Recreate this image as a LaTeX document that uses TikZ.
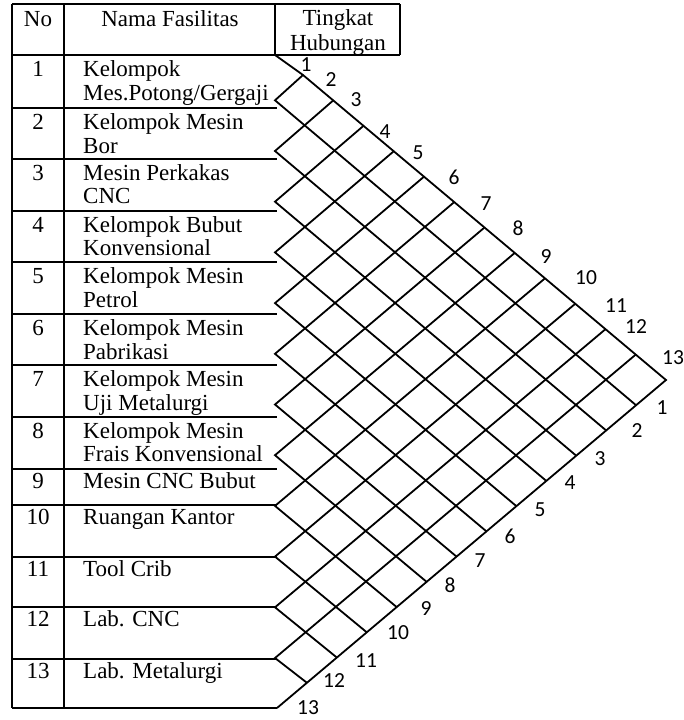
\documentclass[tikz,border=0pt]{standalone}
\usepackage{fontspec}
\setmainfont{Liberation Serif}
\newfontfamily\lblfont{Carlito}
\usetikzlibrary{calc}
\begin{document}
\begin{tikzpicture}[x=1pt,y=-1pt,
  tline/.style={line width=2pt},
  gline/.style={line width=1.8pt, line join=miter},
  cell/.style={inner sep=0pt, font=\fontsize{23}{23.5}\selectfont},
  lbl/.style={inner sep=0pt, font=\lblfont\fontsize{21.5}{22}\selectfont}]
\useasboundingbox (0,0) rectangle (684,720);

% ---------- table frame ----------
\draw[tline] (12,4) -- (400,4);
\draw[tline] (12,55) -- (400,55);
\draw[tline] (12,4) -- (12,708);
\draw[tline] (64,4) -- (64,708);
\draw[tline] (275,4) -- (275,55);
\draw[tline] (400,4) -- (400,55);
\foreach \yy in {108,158.5,210.5,262,314,365,416.5,468.5,505,556.5,607,659,708}
  \draw[tline] (12,\yy) -- (277,\yy);

% ---------- header ----------
\node[cell,anchor=base] (hNo) at (38,26) {No};
\node[cell,anchor=base] (hNama) at (170,26) {Nama Fasilitas};
\node[cell,anchor=base,align=center,font=\fontsize{23}{25}\selectfont] (hTk) at (338,50) {Tingkat\\Hubungan};

% ---------- rows ----------
\node[cell,anchor=base] (n1) at (38,76.5) {1};
\node[cell,anchor=base west,align=left] (f1) at (83,100) {Kelompok\\Mes.Potong/Gergaji};
\node[cell,anchor=base] (n2) at (38,129.5) {2};
\node[cell,anchor=base west,align=left] (f2) at (83,153) {Kelompok Mesin\\Bor};
\node[cell,anchor=base] (n3) at (38,180) {3};
\node[cell,anchor=base west,align=left] (f3) at (83,203.5) {Mesin Perkakas\\CNC};
\node[cell,anchor=base] (n4) at (38,232) {4};
\node[cell,anchor=base west,align=left] (f4) at (83,255.5) {Kelompok Bubut\\Konvensional};
\node[cell,anchor=base] (n5) at (38,283.5) {5};
\node[cell,anchor=base west,align=left] (f5) at (83,307) {Kelompok Mesin\\Petrol};
\node[cell,anchor=base] (n6) at (38,335.5) {6};
\node[cell,anchor=base west,align=left] (f6) at (83,359) {Kelompok Mesin\\Pabrikasi};
\node[cell,anchor=base] (n7) at (38,386.5) {7};
\node[cell,anchor=base west,align=left] (f7) at (83,410) {Kelompok Mesin\\Uji Metalurgi};
\node[cell,anchor=base] (n8) at (38,438) {8};
\node[cell,anchor=base west,align=left] (f8) at (83,461.5) {Kelompok Mesin\\Frais Konvensional};
\node[cell,anchor=base] (n9) at (38,488) {9};
\node[cell,anchor=base west] (f9) at (83,488) {Mesin CNC Bubut};
\node[cell,anchor=base] (n10) at (38,524.5) {10};
\node[cell,anchor=base west] (f10) at (83,524.5) {Ruangan Kantor};
\node[cell,anchor=base] (n11) at (38,576) {11};
\node[cell,anchor=base west] (f11) at (83,576) {Tool Crib};
\node[cell,anchor=base] (n12) at (38,626.5) {12};
\node[cell,anchor=base west] (f12) at (83,626.5) {Lab. CNC};
\node[cell,anchor=base] (n13) at (38,678.5) {13};
\node[cell,anchor=base west] (f13) at (83,678.5) {Lab. Metalurgi};

% ---------- relationship grid ----------
\coordinate (R) at (666,380);
\coordinate (T1) at (303,75);
\coordinate (L0) at (275,55);
\coordinate (L13) at (277,708);
\foreach \k in {1,...,12} {
  \coordinate (L\k) at (275,{49.6+50.7*\k});
  \coordinate (T\k) at ($(T1)!{(\k-1)/12}!(R)$);
  \coordinate (B\k) at ($(R)!{\k/13}!(L13)$);
}
\foreach \k in {1,...,12}
  \draw[gline] (T\k) -- (L\k) -- (B\k);
\draw[gline] (L0) -- (T1) -- (R) -- (L13);

% ---------- grid labels ----------
\node[lbl] (a1) at (306,65) {1};
\node[lbl] (a2) at (331,80) {2};
\node[lbl] (a3) at (356,100) {3};
\node[lbl] (a4) at (385,131.5) {4};
\node[lbl] (a5) at (418,153) {5};
\node[lbl] (a6) at (454,177) {6};
\node[lbl] (a7) at (486,204) {7};
\node[lbl] (a8) at (518,228) {8};
\node[lbl] (a9) at (546,257) {9};
\node[lbl] (a10) at (586,278) {10};
\node[lbl] (a11) at (616,306) {11};
\node[lbl] (a12) at (636,327) {12};
\node[lbl] (a13) at (673,358) {13};

\node[lbl] (b1) at (662,408) {1};
\node[lbl] (b2) at (637,431) {2};
\node[lbl] (b3) at (600,459) {3};
\node[lbl] (b4) at (570,483) {4};
\node[lbl] (b5) at (540,510) {5};
\node[lbl] (b6) at (510,536) {6};
\node[lbl] (b7) at (480,560.5) {7};
\node[lbl] (b8) at (450,585) {8};
\node[lbl] (b9) at (426,609) {9};
\node[lbl] (b10) at (398,632.5) {10};
\node[lbl] (b11) at (366,660.5) {11};
\node[lbl] (b12) at (334,681) {12};
\node[lbl] (b13) at (308,708) {13};
\end{tikzpicture}
\end{document}
